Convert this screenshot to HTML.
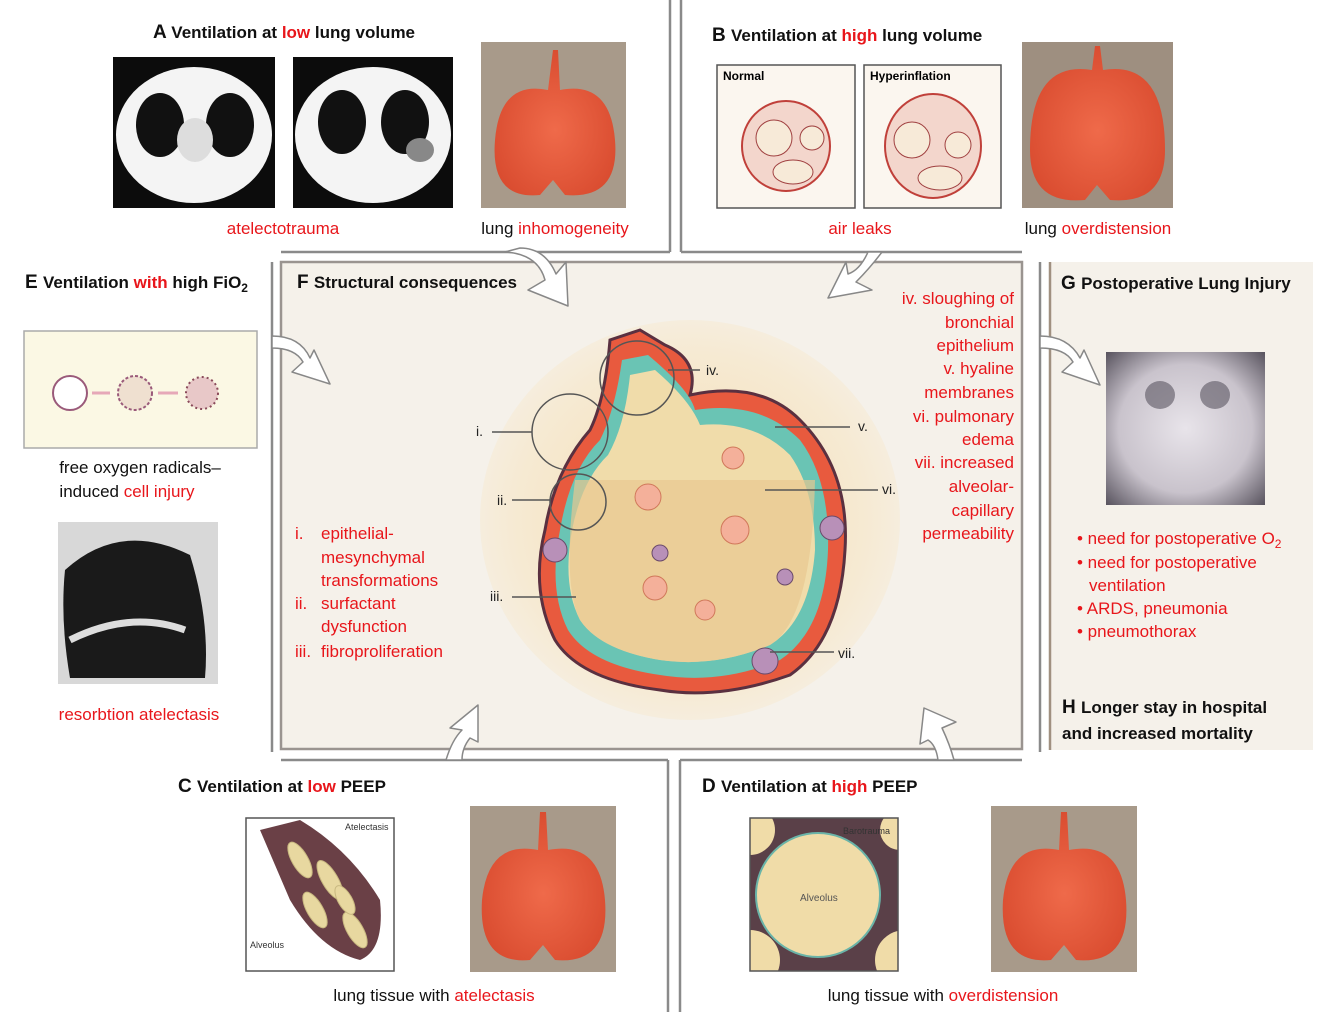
<!DOCTYPE html>
<html><head><meta charset="utf-8"><style>
html,body{margin:0;padding:0;background:#fff;}
svg{display:block;font-family:"Liberation Sans",sans-serif;}
.t{font-size:17px;fill:#111;}
.r{fill:#e8161b;}
.h{font-size:18px;font-weight:bold;fill:#111;}
</style></head><body>
<svg width="1340" height="1030" viewBox="0 0 1340 1030" xmlns="http://www.w3.org/2000/svg">
<defs>
<radialGradient id="cen" cx="0.5" cy="0.5" r="0.6"><stop offset="0" stop-color="#f3dcb0"/><stop offset="0.7" stop-color="#f6ead3"/><stop offset="1" stop-color="#f5f1ea"/></radialGradient>
<radialGradient id="lung" cx="0.5" cy="0.55" r="0.6"><stop offset="0" stop-color="#ef6a4a"/><stop offset="1" stop-color="#d84a2e"/></radialGradient>
<radialGradient id="xr" cx="0.5" cy="0.5" r="0.7"><stop offset="0" stop-color="#e8e4ea"/><stop offset="0.6" stop-color="#c9c3cc"/><stop offset="1" stop-color="#5a5560"/></radialGradient>
<clipPath id="dclip"><rect x="750" y="818" width="148" height="153"/></clipPath>
</defs>
<!-- frame lines -->
<g stroke="#8a8a8a" stroke-width="2.5" fill="none">
<line x1="670" y1="0" x2="670" y2="252"/><line x1="681" y1="0" x2="681" y2="252"/>
<line x1="281" y1="252" x2="670" y2="252"/><line x1="681" y1="252" x2="1022" y2="252"/>
<line x1="272" y1="262" x2="272" y2="752"/>
<line x1="281" y1="760" x2="668" y2="760"/><line x1="680" y1="760" x2="1022" y2="760"/>
<line x1="668" y1="760" x2="668" y2="1012"/><line x1="680" y1="760" x2="680" y2="1012"/>
<line x1="1040" y1="262" x2="1040" y2="752"/>
</g>
<rect x="281" y="262" width="741" height="487" fill="#f5f1ea" stroke="#9a9490" stroke-width="2.5"/>
<rect x="1050" y="262" width="263" height="488" fill="#f5f1ea"/>
<line x1="1050" y1="262" x2="1050" y2="750" stroke="#a09080" stroke-width="2.5"/>

<!-- A -->
<text x="153" y="38" class="h" style="font-size:19px">A <tspan style="font-size:17px">Ventilation at </tspan><tspan class="r" style="font-size:17px">low</tspan><tspan style="font-size:17px"> lung volume</tspan></text>
<rect x="113" y="57" width="162" height="151" fill="#0c0c0c"/>
<ellipse cx="194" cy="135" rx="78" ry="68" fill="#f4f4f4"/>
<ellipse cx="160" cy="125" rx="24" ry="32" fill="#111"/><ellipse cx="230" cy="125" rx="24" ry="32" fill="#111"/>
<ellipse cx="195" cy="140" rx="18" ry="22" fill="#ddd"/>
<rect x="293" y="57" width="160" height="151" fill="#0c0c0c"/>
<ellipse cx="373" cy="135" rx="78" ry="68" fill="#f4f4f4"/>
<ellipse cx="342" cy="122" rx="24" ry="32" fill="#111"/><ellipse cx="405" cy="122" rx="24" ry="32" fill="#111"/>
<ellipse cx="420" cy="150" rx="14" ry="12" fill="#888"/>
<rect x="481" y="42" width="145" height="166" fill="#a89a8a"/>
<path d="M553 50 L558 50 L560 90 Q610 80 615 140 Q620 200 565 195 L553 180 L540 195 Q490 200 495 140 Q500 80 548 90Z" fill="url(#lung)"/>
<text x="283" y="234" class="t r" text-anchor="middle">atelectotrauma</text>
<text x="555" y="234" class="t" text-anchor="middle">lung <tspan class="r">inhomogeneity</tspan></text>

<!-- B -->
<text x="712" y="41" class="h" style="font-size:19px">B <tspan style="font-size:17px">Ventilation at </tspan><tspan class="r" style="font-size:17px">high</tspan><tspan style="font-size:17px"> lung volume</tspan></text>
<rect x="717" y="65" width="138" height="143" fill="#fbf6ef" stroke="#555" stroke-width="1.5"/>
<ellipse cx="786" cy="146" rx="44" ry="45" fill="#f3d6cc" stroke="#c0403a" stroke-width="2"/>
<circle cx="774" cy="138" r="18" fill="#f7ead8" stroke="#a04040"/><circle cx="812" cy="138" r="12" fill="#f7ead8" stroke="#a04040"/><ellipse cx="793" cy="172" rx="20" ry="12" fill="#f7ead8" stroke="#a04040"/>
<text x="723" y="80" style="font-size:12px;font-weight:bold">Normal</text>
<rect x="864" y="65" width="137" height="143" fill="#fbf6ef" stroke="#555" stroke-width="1.5"/>
<ellipse cx="933" cy="146" rx="48" ry="52" fill="#f3d6cc" stroke="#c0403a" stroke-width="2"/>
<circle cx="912" cy="140" r="18" fill="#f7ead8" stroke="#a04040"/><circle cx="958" cy="145" r="13" fill="#f7ead8" stroke="#a04040"/><ellipse cx="940" cy="178" rx="22" ry="12" fill="#f7ead8" stroke="#a04040"/>
<text x="870" y="80" style="font-size:12px;font-weight:bold">Hyperinflation</text>
<rect x="1022" y="42" width="151" height="166" fill="#9e8f80"/>
<path d="M1095 46 L1100 46 L1103 70 Q1165 60 1165 150 Q1165 205 1110 200 L1097 185 L1085 200 Q1030 205 1030 150 Q1030 60 1092 70Z" fill="url(#lung)"/>
<text x="860" y="234" class="t r" text-anchor="middle">air leaks</text>
<text x="1098" y="234" class="t" text-anchor="middle">lung <tspan class="r">overdistension</tspan></text>

<!-- E -->
<text x="25" y="288" class="h" style="font-size:19px">E <tspan style="font-size:17px">Ventilation </tspan><tspan class="r" style="font-size:17px">with</tspan><tspan style="font-size:17px"> high FiO</tspan><tspan style="font-size:12px" dy="4">2</tspan></text>
<rect x="24" y="331" width="233" height="117" fill="#fbf8e4" stroke="#aaa" stroke-width="1.5"/>
<circle cx="70" cy="393" r="17" fill="#fff" stroke="#9a5a7a" stroke-width="2"/>
<circle cx="135" cy="393" r="17" fill="#efe0d0" stroke="#9a5a7a" stroke-width="2" stroke-dasharray="3 2"/>
<circle cx="202" cy="393" r="16" fill="#e8c8c8" stroke="#8a4a5a" stroke-width="2" stroke-dasharray="2 3"/>
<path d="M92 393 h18 M158 393 h20" stroke="#e6a8b8" stroke-width="3"/>
<text x="140" y="473" class="t" text-anchor="middle">free oxygen radicals–</text>
<text x="127" y="497" class="t" text-anchor="middle">induced <tspan class="r">cell injury</tspan></text>
<rect x="58" y="522" width="160" height="162" fill="#d8d8d8"/>
<path d="M65 570 Q120 520 190 555 Q210 620 205 678 L70 678 Q60 620 65 570Z" fill="#1a1a1a"/>
<path d="M70 640 Q130 610 185 630" stroke="#ddd" stroke-width="7" fill="none"/>
<text x="139" y="720" class="t r" text-anchor="middle">resorbtion atelectasis</text>

<!-- F -->
<text x="297" y="288" class="h" style="font-size:19px">F <tspan style="font-size:17px">Structural consequences</tspan></text>
<ellipse cx="690" cy="520" rx="210" ry="200" fill="url(#cen)"/>
<path d="M640 330 L665 345 Q700 360 690 395 Q760 380 800 420 Q850 470 845 550 Q840 640 790 675 Q720 700 660 690 Q580 680 555 640 Q530 590 545 530 Q555 470 590 430 Q605 400 610 340Z" fill="#e85a3e" stroke="#5a3040" stroke-width="3"/>
<path d="M648 355 Q690 390 695 410 Q760 400 800 440 Q830 480 828 550 Q825 630 780 660 Q720 685 660 675 Q590 665 568 630 Q548 590 560 530 Q570 470 600 440 Q615 410 622 360Z" fill="#6ac4b4"/>
<path d="M655 370 Q690 400 700 425 Q755 420 790 455 Q815 490 815 550 Q810 620 770 645 Q715 668 660 660 Q600 650 580 620 Q562 585 572 530 Q582 480 608 455 Q625 425 630 375Z" fill="#f0dcaa"/>
<path d="M575 480 L815 480 Q812 620 770 645 Q715 668 660 660 Q600 650 580 620 Q562 585 575 480Z" fill="#e8c890" opacity="0.7"/>
<g fill="#f4b09a" stroke="#d0785a"><circle cx="733" cy="458" r="11"/><circle cx="648" cy="497" r="13"/><circle cx="735" cy="530" r="14"/><circle cx="655" cy="588" r="12"/><circle cx="705" cy="610" r="10"/></g>
<g fill="#b890b8" stroke="#6a4a6a"><circle cx="555" cy="550" r="12"/><circle cx="832" cy="528" r="12"/><circle cx="660" cy="553" r="8"/><circle cx="785" cy="577" r="8"/><circle cx="765" cy="661" r="13"/></g>
<g fill="none" stroke="#555" stroke-width="1.5">
<circle cx="637" cy="378" r="37"/><circle cx="570" cy="432" r="38"/><circle cx="578" cy="502" r="28"/>
<line x1="668" y1="370" x2="700" y2="370"/><line x1="492" y1="432" x2="532" y2="432"/><line x1="512" y1="500" x2="550" y2="500"/>
<line x1="512" y1="597" x2="576" y2="597"/><line x1="775" y1="427" x2="850" y2="427"/><line x1="765" y1="490" x2="878" y2="490"/><line x1="770" y1="652" x2="834" y2="652"/>
</g>
<g style="font-size:14px" fill="#222"><text x="706" y="375">iv.</text><text x="476" y="436">i.</text><text x="497" y="505">ii.</text><text x="490" y="601">iii.</text><text x="858" y="431">v.</text><text x="882" y="494">vi.</text><text x="838" y="658">vii.</text></g>
<g style="font-size:17px" fill="#e8161b">
<text x="295" y="539">i.</text><text x="321" y="539">epithelial-</text>
<text x="321" y="563">mesynchymal</text><text x="321" y="586">transformations</text>
<text x="295" y="609">ii.</text><text x="321" y="609">surfactant</text>
<text x="321" y="632">dysfunction</text>
<text x="295" y="657">iii.</text><text x="321" y="657">fibroproliferation</text>
</g>
<g style="font-size:17px" fill="#e8161b" text-anchor="end">
<text x="1014" y="304">iv.  sloughing of</text><text x="1014" y="328">bronchial</text><text x="1014" y="351">epithelium</text>
<text x="1014" y="374">v.  hyaline</text><text x="1014" y="398">membranes</text>
<text x="1014" y="422">vi.  pulmonary</text><text x="1014" y="445">edema</text>
<text x="1014" y="468">vii. increased</text><text x="1014" y="492">alveolar-</text><text x="1014" y="516">capillary</text><text x="1014" y="539">permeability</text>
</g>

<!-- arrows -->
<g fill="#fff" stroke="#888" stroke-width="1.5" stroke-linejoin="round">
<path d="M505 252 Q538 254 545 280 L528 290 L568 306 L566 262 L556 274 Q545 248 520 248Z"/>
<path d="M868 252 Q860 270 848 274 L846 262 L828 298 L872 290 L856 282 Q870 268 882 252Z"/>
<path d="M272 348 Q295 348 303 362 L292 372 L330 384 L314 350 L310 358 Q300 336 272 336Z"/>
<path d="M1040 348 Q1065 348 1073 362 L1062 372 L1100 385 L1084 350 L1080 358 Q1068 336 1040 336Z"/>
<path d="M446 760 Q452 740 462 730 L450 728 L478 705 L478 742 L470 738 Q462 748 462 760Z"/>
<path d="M938 760 Q936 745 928 740 L920 744 L924 708 L956 722 L942 728 Q950 745 954 760Z"/>
</g>

<!-- G -->
<text x="1061" y="289" class="h" style="font-size:19px">G <tspan style="font-size:17px">Postoperative Lung Injury</tspan></text>
<rect x="1106" y="352" width="159" height="153" fill="url(#xr)"/>
<ellipse cx="1160" cy="395" rx="15" ry="14" fill="#5a5560" opacity="0.6"/><ellipse cx="1215" cy="395" rx="15" ry="14" fill="#5a5560" opacity="0.6"/>
<g style="font-size:17px" fill="#e8161b">
<text x="1077" y="544">• need for postoperative O<tspan style="font-size:12px" dy="4">2</tspan></text>
<text x="1077" y="568">• need for postoperative</text><text x="1089" y="591">ventilation</text>
<text x="1077" y="614">• ARDS, pneumonia</text><text x="1077" y="637">• pneumothorax</text>
</g>
<text x="1062" y="713" class="h" style="font-size:19px">H <tspan style="font-size:17px">Longer stay in hospital</tspan></text>
<text x="1062" y="739" class="h" style="font-size:17px">and increased mortality</text>

<!-- C -->
<text x="178" y="792" class="h" style="font-size:19px">C <tspan style="font-size:17px">Ventilation at </tspan><tspan class="r" style="font-size:17px">low</tspan><tspan style="font-size:17px"> PEEP</tspan></text>
<rect x="246" y="818" width="148" height="153" fill="#fff" stroke="#555" stroke-width="1.5"/>
<path d="M260 830 L300 820 Q350 850 380 900 Q385 950 360 960 Q320 950 290 900 Z" fill="#6a4046"/>
<g fill="#e8d8a0" stroke="#c8b880"><ellipse cx="300" cy="860" rx="8" ry="20" transform="rotate(-30 300 860)"/><ellipse cx="330" cy="880" rx="8" ry="22" transform="rotate(-30 330 880)"/><ellipse cx="315" cy="910" rx="8" ry="20" transform="rotate(-30 315 910)"/><ellipse cx="355" cy="930" rx="8" ry="20" transform="rotate(-30 355 930)"/><ellipse cx="345" cy="900" rx="7" ry="16" transform="rotate(-30 345 900)"/></g>
<text x="345" y="830" style="font-size:9px" fill="#333">Atelectasis</text><text x="250" y="948" style="font-size:9px" fill="#333">Alveolus</text>
<rect x="470" y="806" width="146" height="166" fill="#a89a8a"/>
<path d="M540 812 L546 812 L548 850 Q600 840 605 900 Q610 965 555 960 L543 945 L530 960 Q478 965 482 900 Q488 840 538 850Z" fill="url(#lung)"/>
<text x="434" y="1001" class="t" text-anchor="middle">lung tissue with <tspan class="r">atelectasis</tspan></text>

<!-- D -->
<text x="702" y="792" class="h" style="font-size:19px">D <tspan style="font-size:17px">Ventilation at </tspan><tspan class="r" style="font-size:17px">high</tspan><tspan style="font-size:17px"> PEEP</tspan></text>
<g clip-path="url(#dclip)">
<rect x="750" y="818" width="148" height="153" fill="#5a4048"/>
<circle cx="818" cy="895" r="62" fill="#f0dca8" stroke="#6ab4a8" stroke-width="2"/>
<circle cx="750" cy="960" r="30" fill="#f0dca8"/><circle cx="905" cy="960" r="30" fill="#f0dca8"/><circle cx="750" cy="830" r="25" fill="#f0dca8"/><circle cx="900" cy="830" r="20" fill="#f0dca8"/>
</g>
<rect x="750" y="818" width="148" height="153" fill="none" stroke="#555" stroke-width="1.5"/>
<text x="843" y="834" style="font-size:9px" fill="#333">Barotrauma</text><text x="800" y="901" style="font-size:10px" fill="#555">Alveolus</text>
<rect x="991" y="806" width="146" height="166" fill="#a89a8a"/>
<path d="M1061 812 L1067 812 L1069 850 Q1121 840 1126 900 Q1131 965 1076 960 L1064 945 L1051 960 Q999 965 1003 900 Q1009 840 1059 850Z" fill="url(#lung)"/>
<text x="943" y="1001" class="t" text-anchor="middle">lung tissue with <tspan class="r">overdistension</tspan></text>
</svg>
</body></html>
